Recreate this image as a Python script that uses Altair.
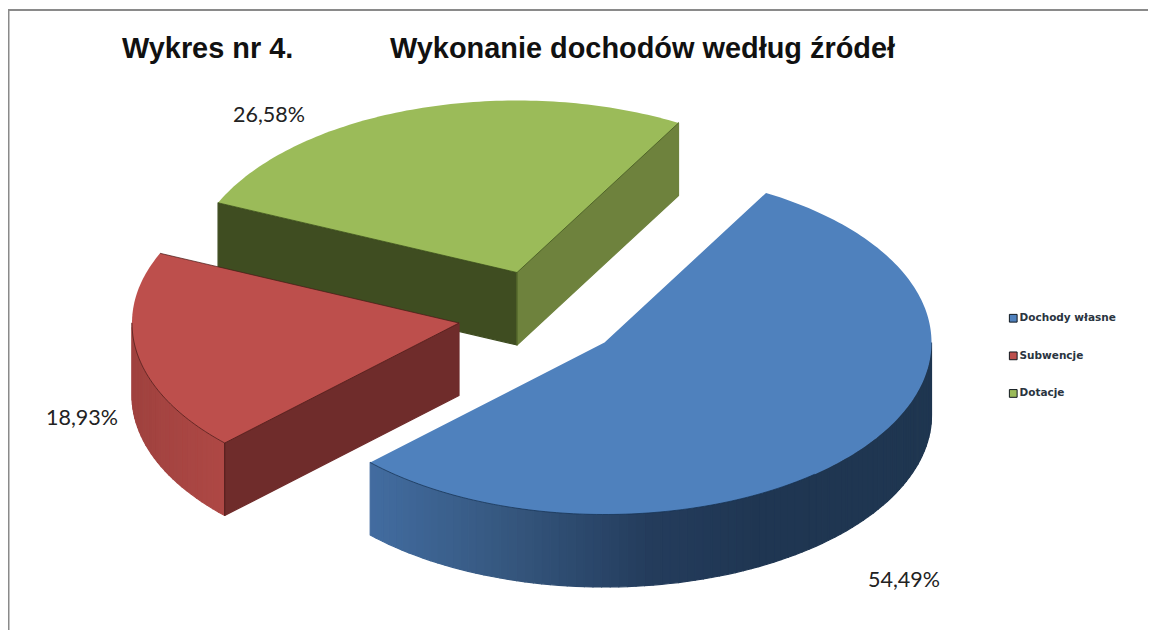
import math
import altair as alt
import pandas as pd

# --- values ---
names = ["Dochody własne", "Subwencje", "Dotacje"]
shares = [54.49, 18.93, 26.58]
labels = ["54,49%", "18,93%", "26,58%"]
top_colors = ["#4f81bd", "#bd4f4c", "#9bbb59"]
title_left = "Wykres nr 4."
title_right = "Wykonanie dochodów według źródeł"

# --- drawing parameters of the exploded 3D pie ---
RX, RY, DEPTH = 327, 172, 72.5
START = 29.6
apex = [(604.5, 342.5), (459, 323), (517, 272.5)]
edge_colors = ["#14304f", "#4a1a18", "#3c4f1c"]
label_pos = [(904, 580.5), (82, 418.5), (269, 115.5)]
side_ramp = {
    0: [(370, (66, 108, 160)), (500, (54, 88, 128)), (650, (36, 60, 92)), (760, (31, 54, 82)), (940, (31, 54, 80))],
    1: [(134, (160, 66, 63)), (224, (174, 72, 69))],
}


def pt(i, ang, dz=0):
    a = math.radians(ang)
    ax, ay = apex[i]
    return ax + RX * math.sin(a), ay - RY * math.cos(a) + dz


def ramp(i, x):
    stops = side_ramp[i]
    if x <= stops[0][0]:
        c = stops[0][1]
    elif x >= stops[-1][0]:
        c = stops[-1][1]
    else:
        for (x0, c0), (x1, c1) in zip(stops, stops[1:]):
            if x0 <= x <= x1:
                t = (x - x0) / (x1 - x0)
                c = tuple(c0[k] + t * (c1[k] - c0[k]) for k in range(3))
                break
    return "#%02x%02x%02x" % tuple(int(round(v)) for v in c)


angles = []
a = START
for s in shares:
    angles.append((a, a + s * 3.6))
    a += s * 3.6


def arc_points(i, a0, a1, dz=0, step=1.0):
    n = max(1, int(abs(a1 - a0) / step))
    return [pt(i, a0 + (a1 - a0) * k / n, dz) for k in range(n + 1)]


def poly_rows(pts, pid, col):
    closed = pts + [pts[0]]
    return [{"x": x, "y": y, "o": k, "pid": pid, "c": col} for k, (x, y) in enumerate(closed)]


X = alt.X("x:Q", axis=None, scale=alt.Scale(domain=[8, 1148], nice=False, zero=False))
Y = alt.Y("y:Q", axis=None, scale=alt.Scale(domain=[630, 8], nice=False, zero=False))


def faces(rows, sw=1.2):
    return alt.Chart(pd.DataFrame(rows)).mark_line(strokeWidth=sw, strokeJoin="round", clip=False).encode(
        x=X, y=Y, order="o:Q", detail="pid:N",
        fill=alt.Fill("c:N", scale=None), stroke=alt.Stroke("c:N", scale=None),
    )


def side_rows(i, a0, a1):
    rows, pid = [], 0
    pts = arc_points(i, a0, a1, step=1.5)
    for p, q in zip(pts, pts[1:]):
        quad = [p, q, (q[0], q[1] + DEPTH), (p[0], p[1] + DEPTH)]
        rows += poly_rows(quad, f"s{i}-{pid:03d}", ramp(i, (p[0] + q[0]) / 2))
        pid += 1
    return rows


def radial(i, ang, col):
    ax, ay = apex[i]
    p = pt(i, ang)
    return poly_rows([(ax, ay), p, (p[0], p[1] + DEPTH), (ax, ay + DEPTH)], f"r{i}-{ang:.1f}", col)


def top_chart(i):
    pts = [apex[i]] + arc_points(i, *angles[i])
    rows = [dict(r, name=names[i]) for r in poly_rows(pts, f"t{i}", top_colors[i])]
    return alt.Chart(pd.DataFrame(rows)).mark_line(filled=True, strokeWidth=0).encode(
        x=X, y=Y, order="o:Q", detail="pid:N",
        color=alt.Color(
            "name:N",
            scale=alt.Scale(domain=names, range=top_colors),
            legend=alt.Legend(
                title=None, orient="none", legendX=1000, legendY=305, symbolType="square",
                symbolSize=60, symbolStrokeColor="#10181f", symbolStrokeWidth=1, symbolOpacity=1,
                labelFont="DejaVu Sans", labelFontSize=10.5, labelFontWeight="bold", labelColor="#2a3440",
                rowPadding=24.6, labelOffset=1, values=names,
            ),
        ),
    )


def edge_chart(i, segs):
    rows = []
    for k, seg in enumerate(segs):
        rows += [{"x": x, "y": y, "o": j, "pid": f"e{i}-{k}"} for j, (x, y) in enumerate(seg)]
    return alt.Chart(pd.DataFrame(rows)).mark_line(strokeWidth=0.9, color=edge_colors[i], opacity=0.8).encode(
        x=X, y=Y, order="o:Q", detail="pid:N"
    )


layers = []
# green
g0, g1 = angles[2]
layers.append(faces(radial(2, g0, "#3f4d21") + radial(2, g1, "#6e823d")))
layers.append(top_chart(2))
layers.append(edge_chart(2, [[pt(2, g0), apex[2], pt(2, g1)],
                             [apex[2], (apex[2][0], apex[2][1] + DEPTH)]]))
# red
r0, r1 = angles[1]
layers.append(faces(side_rows(1, r0, 270) + radial(1, r0, "#6f2c2b")))
layers.append(top_chart(1))
layers.append(edge_chart(1, [arc_points(1, r0, 270),
                             [pt(1, r1), apex[1], pt(1, r0)],
                             [pt(1, r0), (pt(1, r0)[0], pt(1, r0)[1] + DEPTH)]]))
# blue
b0, b1 = angles[0]
layers.append(faces(side_rows(0, 90, b1)))
layers.append(top_chart(0))
layers.append(edge_chart(0, [arc_points(0, 140, b1)]))

# frame
layers.append(alt.Chart(pd.DataFrame({"a": [0]})).mark_rule(color="#8a8a8a", strokeWidth=2).encode(
    x=alt.value(0), x2=alt.value(1140), y=alt.value(2)))
layers.append(alt.Chart(pd.DataFrame({"a": [0]})).mark_rule(color="#8a8a8a", strokeWidth=2).encode(
    x=alt.value(0.5), y=alt.value(1), y2=alt.value(622)))

# percentage labels
lab_df = pd.DataFrame({"x": [p[0] for p in label_pos], "y": [p[1] for p in label_pos], "t": labels})
layers.append(alt.Chart(lab_df).mark_text(font="Lato", fontSize=21.5, color="#222222").encode(x=X, y=Y, text="t:N"))

# titles
tit_df = pd.DataFrame({"x": [122, 390], "y": [48.5, 48.5], "t": [title_left, title_right]})
layers.append(alt.Chart(tit_df).mark_text(font="Liberation Sans", fontSize=28.9, fontWeight="bold", align="left",
                                          color="#111111").encode(x=X, y=Y, text="t:N"))

chart = alt.layer(*layers).properties(
    width=1140, height=622, padding=0, autosize="none", background="white"
).configure_view(stroke=None)

chart.save("out.html", embed_options={"renderer": "svg", "actions": False})
